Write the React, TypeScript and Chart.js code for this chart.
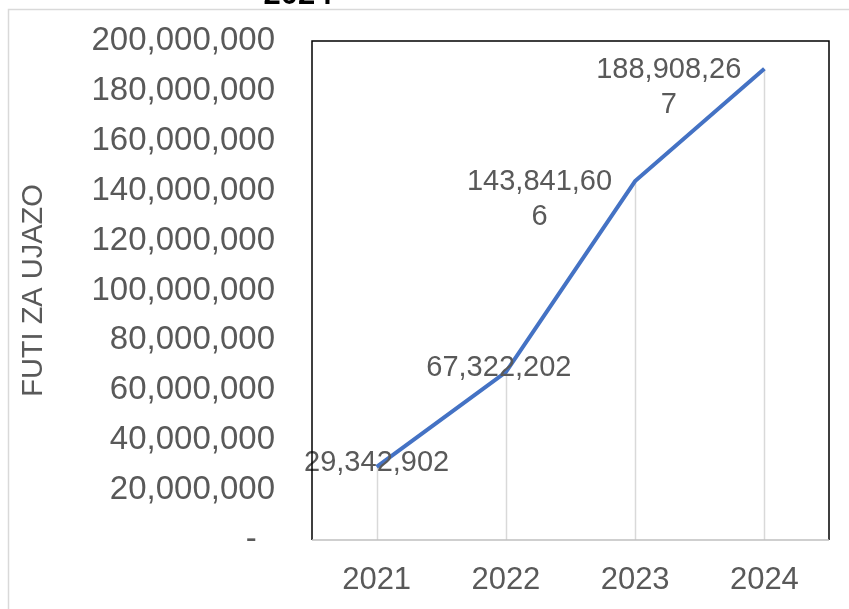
import React, { useEffect, useRef } from 'react';
import { Chart, registerables } from 'chart.js';

Chart.register(...registerables);

const years = ['2021', '2022', '2023', '2024'];
const volumes = [29342902, 67322202, 143841606, 188908267];
const yTickMax = 200000000;
const yTickStep = 20000000;
const axisTitle = 'FUTI ZA UJAZO';
const titleTail = '2024';
const labelPlacement = ['center', 'center', 'left', 'left'];
const labelNudgeX = [0, -7, 0, 0];

const FONT = "'Liberation Sans', Arial, sans-serif";
const GRAY_TEXT = '#595959';

function fmt(v: number): string {
  return v.toLocaleString('en-US');
}

function wrapChars(ctx: CanvasRenderingContext2D, text: string, maxWidth: number): string[] {
  const lines: string[] = [];
  let cur = '';
  for (const ch of text) {
    if (cur && ctx.measureText(cur + ch).width > maxWidth) {
      lines.push(cur);
      cur = ch;
    } else {
      cur += ch;
    }
  }
  if (cur) lines.push(cur);
  return lines;
}

const framePlugin = {
  id: 'frameDecor',
  beforeDraw(chart: any) {
    const ctx = chart.ctx as CanvasRenderingContext2D;
    ctx.save();
    ctx.fillStyle = '#ffffff';
    ctx.fillRect(0, 0, chart.width, chart.height);
    ctx.strokeStyle = '#D9D9D9';
    ctx.lineWidth = 1.5;
    ctx.strokeRect(8.5, 9.5, chart.width + 20, chart.height + 20);
    ctx.fillStyle = '#000000';
    ctx.font = `bold 31px ${FONT}`;
    ctx.textAlign = 'center';
    ctx.textBaseline = 'alphabetic';
    ctx.fillText(titleTail, 298, 4);
    ctx.restore();
  },
  beforeDatasetsDraw(chart: any) {
    const ctx = chart.ctx as CanvasRenderingContext2D;
    const bottom = chart.chartArea.bottom;
    const meta = chart.getDatasetMeta(0);
    ctx.save();
    ctx.strokeStyle = '#D9D9D9';
    ctx.lineWidth = 1.5;
    meta.data.forEach((pt: any) => {
      ctx.beginPath();
      ctx.moveTo(Math.round(pt.x) + 0.5, pt.y);
      ctx.lineTo(Math.round(pt.x) + 0.5, bottom);
      ctx.stroke();
    });
    ctx.restore();
  },
  afterDatasetsDraw(chart: any) {
    const ctx = chart.ctx as CanvasRenderingContext2D;
    const meta = chart.getDatasetMeta(0);
    ctx.save();
    ctx.font = `29px ${FONT}`;
    ctx.fillStyle = GRAY_TEXT;
    ctx.textBaseline = 'middle';
    ctx.textAlign = 'center';
    const lh = 35;
    meta.data.forEach((pt: any, i: number) => {
      const lines = wrapChars(ctx, fmt(volumes[i]), 152);
      if (labelPlacement[i] === 'left') {
        const w = Math.max(...lines.map((l) => ctx.measureText(l).width));
        const cx = pt.x - 23 - w / 2 + labelNudgeX[i];
        lines.forEach((l, k) => ctx.fillText(l, cx, pt.y + 1 + k * lh));
      } else {
        const h = lines.length * lh;
        lines.forEach((l, k) =>
          ctx.fillText(l, pt.x + labelNudgeX[i], pt.y - 4 - h / 2 + lh / 2 + k * lh)
        );
      }
    });
    ctx.restore();
  },
  afterDraw(chart: any) {
    const ctx = chart.ctx as CanvasRenderingContext2D;
    const { left, right, top, bottom } = chart.chartArea;
    ctx.save();
    ctx.strokeStyle = '#000000';
    ctx.lineWidth = 1.5;
    ctx.beginPath();
    ctx.moveTo(left, bottom);
    ctx.lineTo(left, top);
    ctx.lineTo(right, top);
    ctx.lineTo(right, bottom);
    ctx.stroke();
    ctx.strokeStyle = '#BFBFBF';
    ctx.beginPath();
    ctx.moveTo(left, bottom);
    ctx.lineTo(right, bottom);
    ctx.stroke();
    ctx.restore();
  },
};

export default function App() {
  const ref = useRef<HTMLCanvasElement>(null);

  useEffect(() => {
    if (!ref.current) return;
    const chart = new Chart(ref.current, {
      type: 'line',
      data: {
        labels: years,
        datasets: [
          {
            data: volumes,
            borderColor: '#4472C4',
            borderWidth: 4,
            pointRadius: 0,
            tension: 0,
            fill: false,
          },
        ],
      },
      options: {
        responsive: false,
        animation: false,
        devicePixelRatio: 1,
        layout: { padding: { left: 8, top: 41, right: 20, bottom: 0 } },
        plugins: {
          legend: { display: false },
          tooltip: { enabled: false },
          title: { display: false },
        },
        scales: {
          x: {
            offset: true,
            ticks: { color: GRAY_TEXT, font: { size: 31, family: FONT }, padding: 22 },
            grid: { display: false, drawTicks: false },
            border: { display: false },
            afterFit: (s: any) => {
              s.height = 69;
              s.paddingLeft = 0;
              s.paddingRight = 0;
            },
          },
          y: {
            min: 0,
            max: yTickMax,
            ticks: {
              stepSize: yTickStep,
              color: GRAY_TEXT,
              font: { size: 33, family: FONT },
              padding: 37,
              callback: (v: any) => (Number(v) === 0 ? '-  ' : fmt(Number(v))),
            },
            grid: { display: false, drawTicks: false },
            border: { display: false },
            title: {
              display: true,
              text: axisTitle,
              color: GRAY_TEXT,
              font: { size: 29, family: FONT },
              padding: { top: 9, bottom: 0 },
            },
            afterFit: (s: any) => {
              s.width = 304;
              s.paddingTop = 0;
              s.paddingBottom = 0;
            },
          },
        },
      },
      plugins: [framePlugin],
    });
    return () => chart.destroy();
  }, []);

  return (
    <div style={{ position: 'fixed', left: 0, top: 0, width: 849, height: 609, background: '#fff' }}>
      <canvas ref={ref} width={849} height={609} style={{ display: 'block' }} />
    </div>
  );
}
